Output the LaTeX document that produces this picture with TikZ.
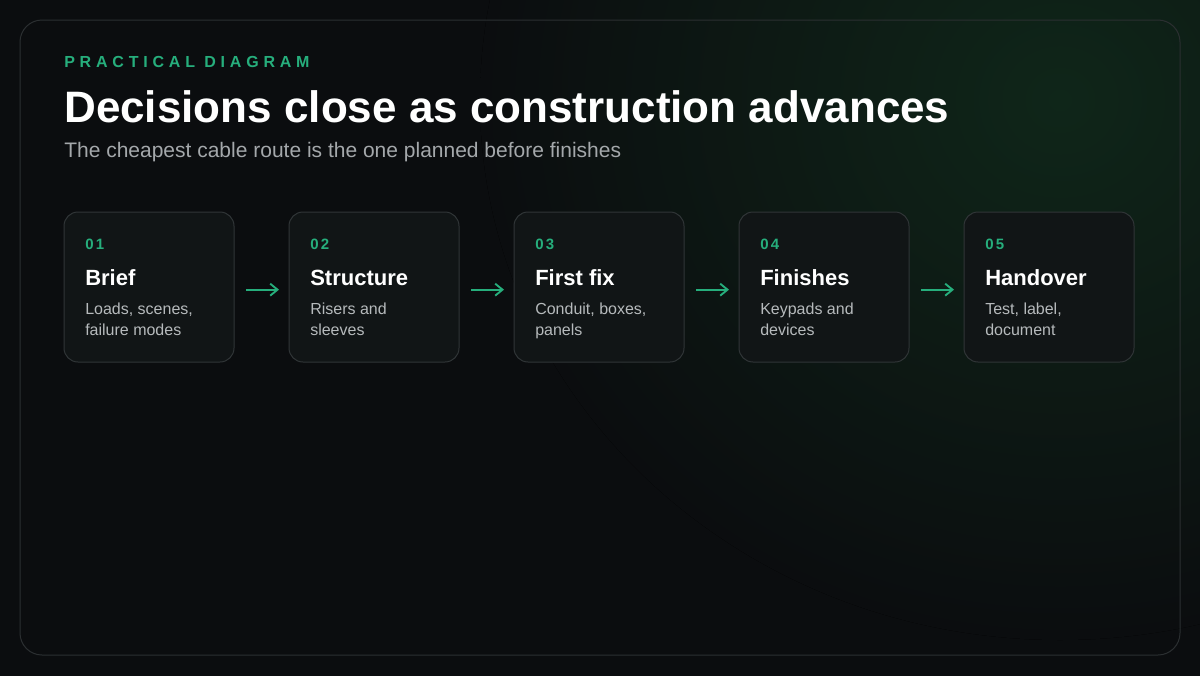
\documentclass[tikz,border=0pt]{standalone}
\usepackage{fontspec}
\setmainfont{Liberation Sans}
\usetikzlibrary{positioning,calc,arrows.meta}

\definecolor{bgdark}{HTML}{0B0D0F}
\definecolor{glowgreen}{HTML}{0F2619}
\definecolor{panelline}{HTML}{2B2F31}
\definecolor{cardfill}{HTML}{111516}
\definecolor{cardline}{HTML}{303537}
\definecolor{accent}{HTML}{26AE7C}
\definecolor{subgray}{HTML}{A4A8AB}
\definecolor{descgray}{HTML}{B6BABC}

\tikzset{
  card/.style={draw=cardline, line width=0.75pt, fill=cardfill, rounded corners=10.5pt,
    minimum width=127.5pt, minimum height=112.5pt, inner sep=0pt, outer sep=0pt},
  stepnum/.style={anchor=base west, inner sep=0pt, text=accent,
    font=\bfseries\addfontfeatures{LetterSpace=15}\fontsize{11.25pt}{13pt}\selectfont},
  steptitle/.style={anchor=base west, inner sep=0pt, text=white, font=\bfseries\fontsize{16.5pt}{19pt}\selectfont},
  stepdesc/.style={anchor=base west, inner sep=0pt, text=descgray, align=left,
    font=\fontsize{12pt}{15.75pt}\selectfont},
  flow/.style={draw=accent, line width=1.4pt, -{Straight Barb[length=5.5pt,width=9pt]},
    shorten <=9pt, shorten >=7.5pt}
}

\begin{document}
\begin{tikzpicture}[x=0.75pt, y=-0.75pt]
    % Background and glow
    \useasboundingbox (0,0) rectangle (1200,675);
    \fill[bgdark] (-10,-10) rectangle (1210,685);
    \begin{scope}
      \clip (-10,-10) rectangle (1210,685);
      \fill[inner color=glowgreen, outer color=bgdark] (1060,100) ellipse (580 and 540);
    \end{scope}

    % Outer panel
    \draw[panelline, line width=0.75pt, rounded corners=16.5pt] (20,20) rectangle (1180,655);

    % Heading
    \node[anchor=base west, inner sep=0pt, text=accent,
      font=\bfseries\addfontfeatures{LetterSpace=30}\fontsize{12pt}{14pt}\selectfont]
      (eyebrow) at (64,67) {PRACTICAL DIAGRAM};
    \node[anchor=base west, inner sep=0pt, text=white, font=\bfseries\fontsize{33pt}{38pt}\selectfont]
      (title) at (64,122) {Decisions close as construction advances};
    \node[anchor=base west, inner sep=0pt, text=subgray, font=\fontsize{15.75pt}{18pt}\selectfont]
      (subtitle) at (64,157) {The cheapest cable route is the one planned before finishes};

    % Stage cards
    \node[card] (brief) at (149,287) {};
    \node[card, right=41.25pt of brief] (structure) {};
    \node[card, right=41.25pt of structure] (firstfix) {};
    \node[card, right=41.25pt of firstfix] (finishes) {};
    \node[card, right=41.25pt of finishes] (handover) {};

    % Card texts (description base = last line)
    \node[stepnum] (n1) at ($(brief.north west)+(21,37)$) {01};
    \node[steptitle] (t1) at ($(brief.north west)+(21,73)$) {Brief};
    \node[stepdesc] (d1) at ($(brief.north west)+(21,123)$) {Loads, scenes,\\failure modes};

    \node[stepnum] (n2) at ($(structure.north west)+(21,37)$) {02};
    \node[steptitle] (t2) at ($(structure.north west)+(21,73)$) {Structure};
    \node[stepdesc] (d2) at ($(structure.north west)+(21,123)$) {Risers and\\sleeves};

    \node[stepnum] (n3) at ($(firstfix.north west)+(21,37)$) {03};
    \node[steptitle] (t3) at ($(firstfix.north west)+(21,73)$) {First fix};
    \node[stepdesc] (d3) at ($(firstfix.north west)+(21,123)$) {Conduit, boxes,\\panels};

    \node[stepnum] (n4) at ($(finishes.north west)+(21,37)$) {04};
    \node[steptitle] (t4) at ($(finishes.north west)+(21,73)$) {Finishes};
    \node[stepdesc] (d4) at ($(finishes.north west)+(21,123)$) {Keypads and\\devices};

    \node[stepnum] (n5) at ($(handover.north west)+(21,37)$) {05};
    \node[steptitle] (t5) at ($(handover.north west)+(21,73)$) {Handover};
    \node[stepdesc] (d5) at ($(handover.north west)+(21,123)$) {Test, label,\\document};

    % Arrows between stages
    \draw[flow] ([yshift=-2pt]brief.east) -- ([yshift=-2pt]structure.west);
    \draw[flow] ([yshift=-2pt]structure.east) -- ([yshift=-2pt]firstfix.west);
    \draw[flow] ([yshift=-2pt]firstfix.east) -- ([yshift=-2pt]finishes.west);
    \draw[flow] ([yshift=-2pt]finishes.east) -- ([yshift=-2pt]handover.west);
\end{tikzpicture}
\end{document}
